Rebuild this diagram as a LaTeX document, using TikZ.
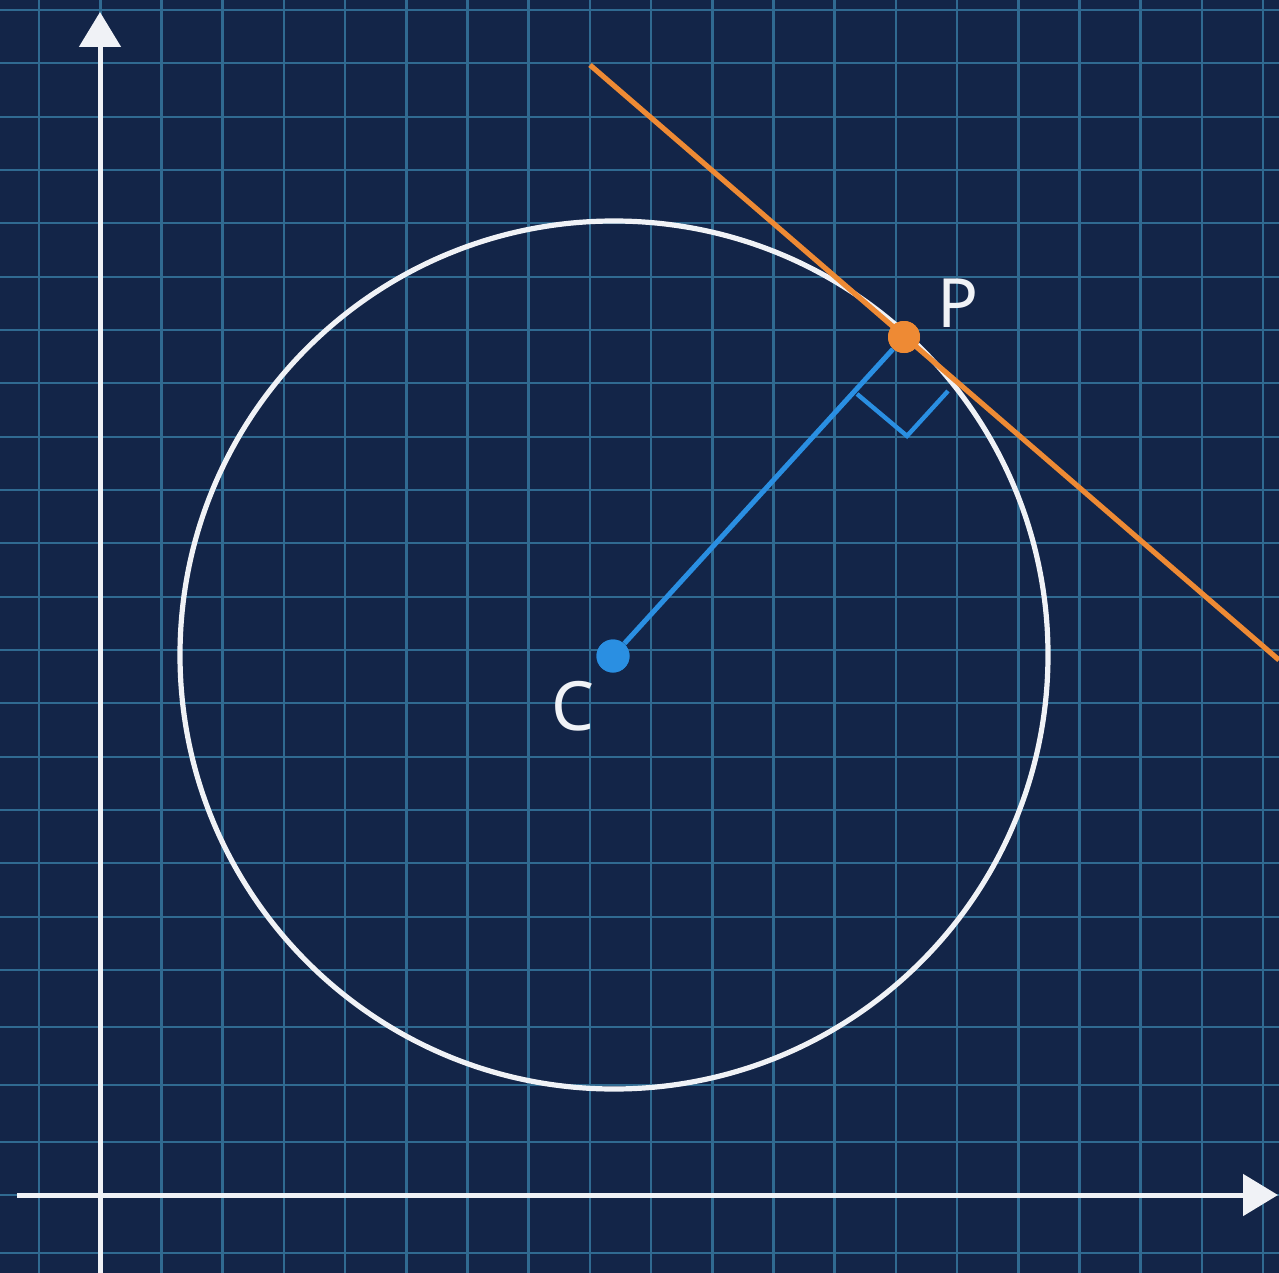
\documentclass[tikz,border=0pt]{standalone}
\usepackage{fontspec}
\setmainfont{Noto Sans}
\usetikzlibrary{arrows.meta}
\definecolor{bgnavy}{RGB}{19,37,72}
\definecolor{gridblue}{RGB}{48,106,145}
\definecolor{axiswhite}{RGB}{240,242,246}
\definecolor{tangorange}{RGB}{238,138,52}
\definecolor{radblue}{RGB}{42,143,226}
\tikzset{
  gridline/.style={draw=gridblue, line width=1.3pt},
  axisline/.style={draw=axiswhite, line width=2.5pt, -{Triangle[length=17.5pt,width=20.5pt]}},
  circleline/.style={draw=axiswhite, line width=2.6pt},
  tangentline/.style={draw=tangorange, line width=2.6pt},
  radiusline/.style={draw=radblue, line width=2.5pt},
  markline/.style={draw=radblue, line width=2.2pt, line join=miter},
  dotc/.style={circle, fill=radblue, inner sep=0pt, minimum size=16.5pt},
  dotp/.style={circle, fill=tangorange, inner sep=0pt, minimum size=16pt},
  lab/.style={text=axiswhite, font=\fontsize{34}{40}\selectfont, inner sep=0pt}
}
\begin{document}
\begin{tikzpicture}[x=0.5pt,y=-0.5pt]
\fill[bgnavy] (0,0) rectangle (1279,1273);
\useasboundingbox (0,0) rectangle (1279,1273);
% grid
\foreach \k in {0,...,20} {
  \draw[gridline] ({39+61.2*\k},0) -- ({39+61.2*\k},1273);
}
\foreach \yy in {10,63,117,170,223,277,330,383,437,490,543,597,650,703,757,810,863,917,970,1027,1085,1142,1195,1253} {
  \draw[gridline] (0,\yy) -- (1279,\yy);
}
% axes
\coordinate (ybot) at (100,1273);
\coordinate (ytop) at (100,12);
\coordinate (xleft) at (17,1195);
\coordinate (xright) at (1278,1195);
\draw[axisline] (ybot) -- (ytop);
\draw[axisline] (xleft) -- (xright);
% circle
\coordinate (cc) at (614,655);
\draw[circleline] (cc) circle[radius=434];
% tangent
\coordinate (t1) at (590,65);
\coordinate (t2) at (1279,660);
\draw[tangentline] (t1) -- (t2);
% right-angle marker
\coordinate (m1) at (857,394);
\coordinate (m2) at (907,436);
\coordinate (m3) at (948,391);
\draw[markline] (m1) -- (m2) -- (m3);
% points
\node[dotc] (C) at (613,656) {};
\node[dotp] (P) at (904,337) {};
\draw[radiusline] (C) -- (P);
\node[dotc] at (C) {};
\node[dotp] at (P) {};
% labels
\node[lab] (Clab) at (573,706) {C};
\node[lab] (Plab) at (958,303) {P};
\end{tikzpicture}
\end{document}
